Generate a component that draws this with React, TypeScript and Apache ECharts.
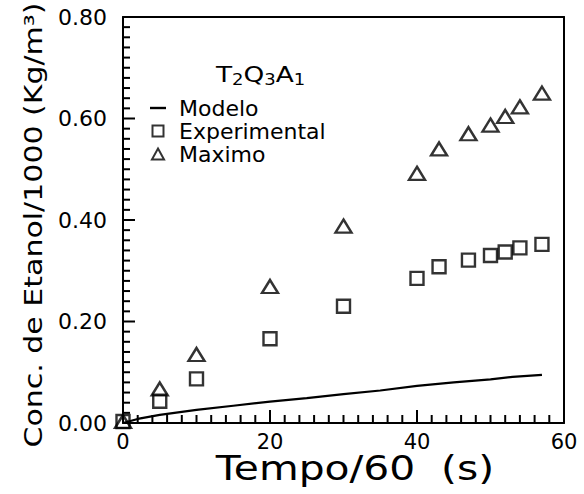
import React, { useEffect, useRef } from "react";
import * as echarts from "echarts";

const modeloX = [0, 2, 5, 10, 15, 20, 25, 30, 35, 40, 45, 50, 53, 57];
const modeloY = [0, 0.008, 0.016, 0.026, 0.034, 0.042, 0.049, 0.057, 0.064, 0.073, 0.08, 0.086, 0.091, 0.095];

const expX = [0, 5, 10, 20, 30, 40, 43, 47, 50, 52, 54, 57];
const expY = [0.003, 0.043, 0.087, 0.166, 0.23, 0.285, 0.308, 0.321, 0.33, 0.337, 0.345, 0.352];

const maxX = [0, 5, 10, 20, 30, 40, 43, 47, 50, 52, 54, 57];
const maxY = [0.003, 0.067, 0.135, 0.269, 0.388, 0.492, 0.54, 0.57, 0.587, 0.604, 0.623, 0.65];

const xTicks = [0, 20, 40, 60];
const yTicks = [0, 0.2, 0.4, 0.6, 0.8];
const xMinorStep = 2;
const yMinorStep = 0.02;

const seriesNames = ["Modelo", "Experimental", "Maximo"];
const xTitle = "Tempo/60  (s)";
const yTitle = "Conc. de Etanol/1000 (Kg/m\u00B3)";

const FONT = "DejaVu Sans";

export default function App() {
  const ref = useRef<HTMLDivElement>(null);
  useEffect(() => {
    if (!ref.current) return;
    const chart = echarts.init(ref.current, undefined, { renderer: "svg" });
    const pair = (xs: number[], ys: number[]) => xs.map((x, i) => [x, ys[i]]);

    const xMax = xTicks[xTicks.length - 1];
    const yMax = yTicks[yTicks.length - 1];
    const xTickData: number[][] = [];
    for (let i = 0; i * xMinorStep <= xMax + 1e-9; i++) {
      const v = +(i * xMinorStep).toFixed(4);
      const major = xTicks.some((t) => Math.abs(t - v) < 1e-6);
      xTickData.push([v, 0, major ? 13 : 8]);
    }
    const yTickData: number[][] = [];
    for (let i = 0; i * yMinorStep <= yMax + 1e-9; i++) {
      const v = +(i * yMinorStep).toFixed(4);
      const major = yTicks.some((t) => Math.abs(t - v) < 1e-6);
      yTickData.push([0, v, major ? 12 : 7]);
    }

    const frameAxis = {
      type: "value",
      axisLine: { show: true, onZero: false, lineStyle: { color: "#000", width: 2 } },
      axisTick: { show: false },
      axisLabel: { show: false },
      splitLine: { show: false },
    };
    chart.setOption({
      animation: false,
      backgroundColor: "#fff",
      grid: { left: 123, right: 20, top: 17, bottom: 71 },
      xAxis: [
        {
          type: "value",
          position: "bottom",
          min: xTicks[0],
          max: xMax,
          interval: 20,
          axisLine: { show: true, onZero: false, lineStyle: { color: "#000", width: 2 } },
          axisTick: { show: false },
          splitLine: { show: false },
          axisLabel: { color: "#000", fontFamily: FONT, fontSize: 21, margin: 8 },
        },
        { ...frameAxis, position: "top", min: 0, max: xMax },
      ],
      yAxis: [
        {
          type: "value",
          position: "left",
          min: yTicks[0],
          max: yMax,
          interval: 0.2,
          axisLine: { show: true, onZero: false, lineStyle: { color: "#000", width: 2 } },
          axisTick: { show: false },
          splitLine: { show: false },
          axisLabel: {
            color: "#000",
            fontFamily: FONT,
            fontSize: 22,
            margin: 16,
            padding: [7, 0, 0, 0],
            formatter: (v: number) => v.toFixed(2),
          },
        },
        { ...frameAxis, position: "right", min: 0, max: yMax },
      ],
      legend: {
        orient: "vertical",
        left: 145,
        top: 92,
        itemGap: 1,
        itemWidth: 16,
        itemHeight: 11,
        selectedMode: false,
        textStyle: { color: "#000", fontFamily: FONT, fontSize: 22, padding: [0, 0, 0, 8] },
        data: [
          { name: seriesNames[0], icon: "path://M0,0H16V2.4H0Z", itemStyle: { color: "#000", borderWidth: 0 } },
          {
            name: seriesNames[1],
            icon: "path://M0,0H10V10H0Z",
            itemStyle: { color: "rgba(0,0,0,0)", borderColor: "#000", borderWidth: 2 },
          },
          {
            name: seriesNames[2],
            icon: "path://M5.5,0L11,10H0Z",
            itemStyle: { color: "rgba(0,0,0,0)", borderColor: "#000", borderWidth: 2 },
          },
        ],
      },
      series: [
        {
          name: seriesNames[0],
          type: "line",
          data: pair(modeloX, modeloY),
          showSymbol: false,
          symbol: "none",
          lineStyle: { color: "#000", width: 2.2 },
          itemStyle: { color: "#000" },
          z: 2,
        },
        {
          name: seriesNames[1],
          type: "scatter",
          data: pair(expX, expY),
          symbol: "rect",
          symbolSize: 13,
          itemStyle: { color: "rgba(0,0,0,0)", borderColor: "#000", borderWidth: 2.4 },
          z: 3,
        },
        {
          name: seriesNames[2],
          type: "scatter",
          data: pair(maxX, maxY),
          symbol: "triangle",
          symbolSize: [16, 13],
          itemStyle: { color: "rgba(0,0,0,0)", borderColor: "#000", borderWidth: 2.4 },
          z: 3,
        },
        {
          name: "xTicks",
          type: "custom",
          silent: true,
          clip: false,
          z: 4,
          data: xTickData,
          encode: { x: 0, y: 1 },
          renderItem: (_p: any, api: any) => {
            const pt = api.coord([api.value(0), api.value(1)]);
            const len = api.value(2);
            return {
              type: "line",
              shape: { x1: pt[0], y1: pt[1], x2: pt[0], y2: pt[1] - len },
              style: { stroke: "#000", lineWidth: 2 },
            };
          },
        },
        {
          name: "yTicks",
          type: "custom",
          silent: true,
          clip: false,
          z: 4,
          data: yTickData,
          encode: { x: 0, y: 1 },
          renderItem: (_p: any, api: any) => {
            const pt = api.coord([api.value(0), api.value(1)]);
            const len = api.value(2);
            return {
              type: "line",
              shape: { x1: pt[0], y1: pt[1], x2: pt[0] + len, y2: pt[1] },
              style: { stroke: "#000", lineWidth: 2 },
            };
          },
        },
      ],
      graphic: [
        {
          type: "text",
          x: 216,
          y: 74,
          scaleX: 1.2,
          style: {
            text: "T{s|2}Q{s|3}A{s|1}",
            fill: "#000",
            fontFamily: FONT,
            fontSize: 22,
            align: "left",
            verticalAlign: "middle",
            rich: {
              s: { fontFamily: FONT, fontSize: 15, fill: "#000", padding: [13, 0, 0, 0] },
            },
          },
        },
        {
          type: "text",
          x: 355,
          y: 468,
          scaleX: 1.2,
          style: { text: xTitle, fill: "#000", fontFamily: FONT, fontSize: 34, align: "center", verticalAlign: "middle" },
        },
        {
          type: "text",
          x: 33,
          y: 225,
          rotation: Math.PI / 2,
          scaleX: 1.2,
          style: { text: yTitle, fill: "#000", fontFamily: FONT, fontSize: 25, align: "center", verticalAlign: "middle" },
        },
      ],
    });
    return () => chart.dispose();
  }, []);
  return <div ref={ref} style={{ width: 584, height: 494, position: "absolute", left: 0, top: 0 }} />;
}
